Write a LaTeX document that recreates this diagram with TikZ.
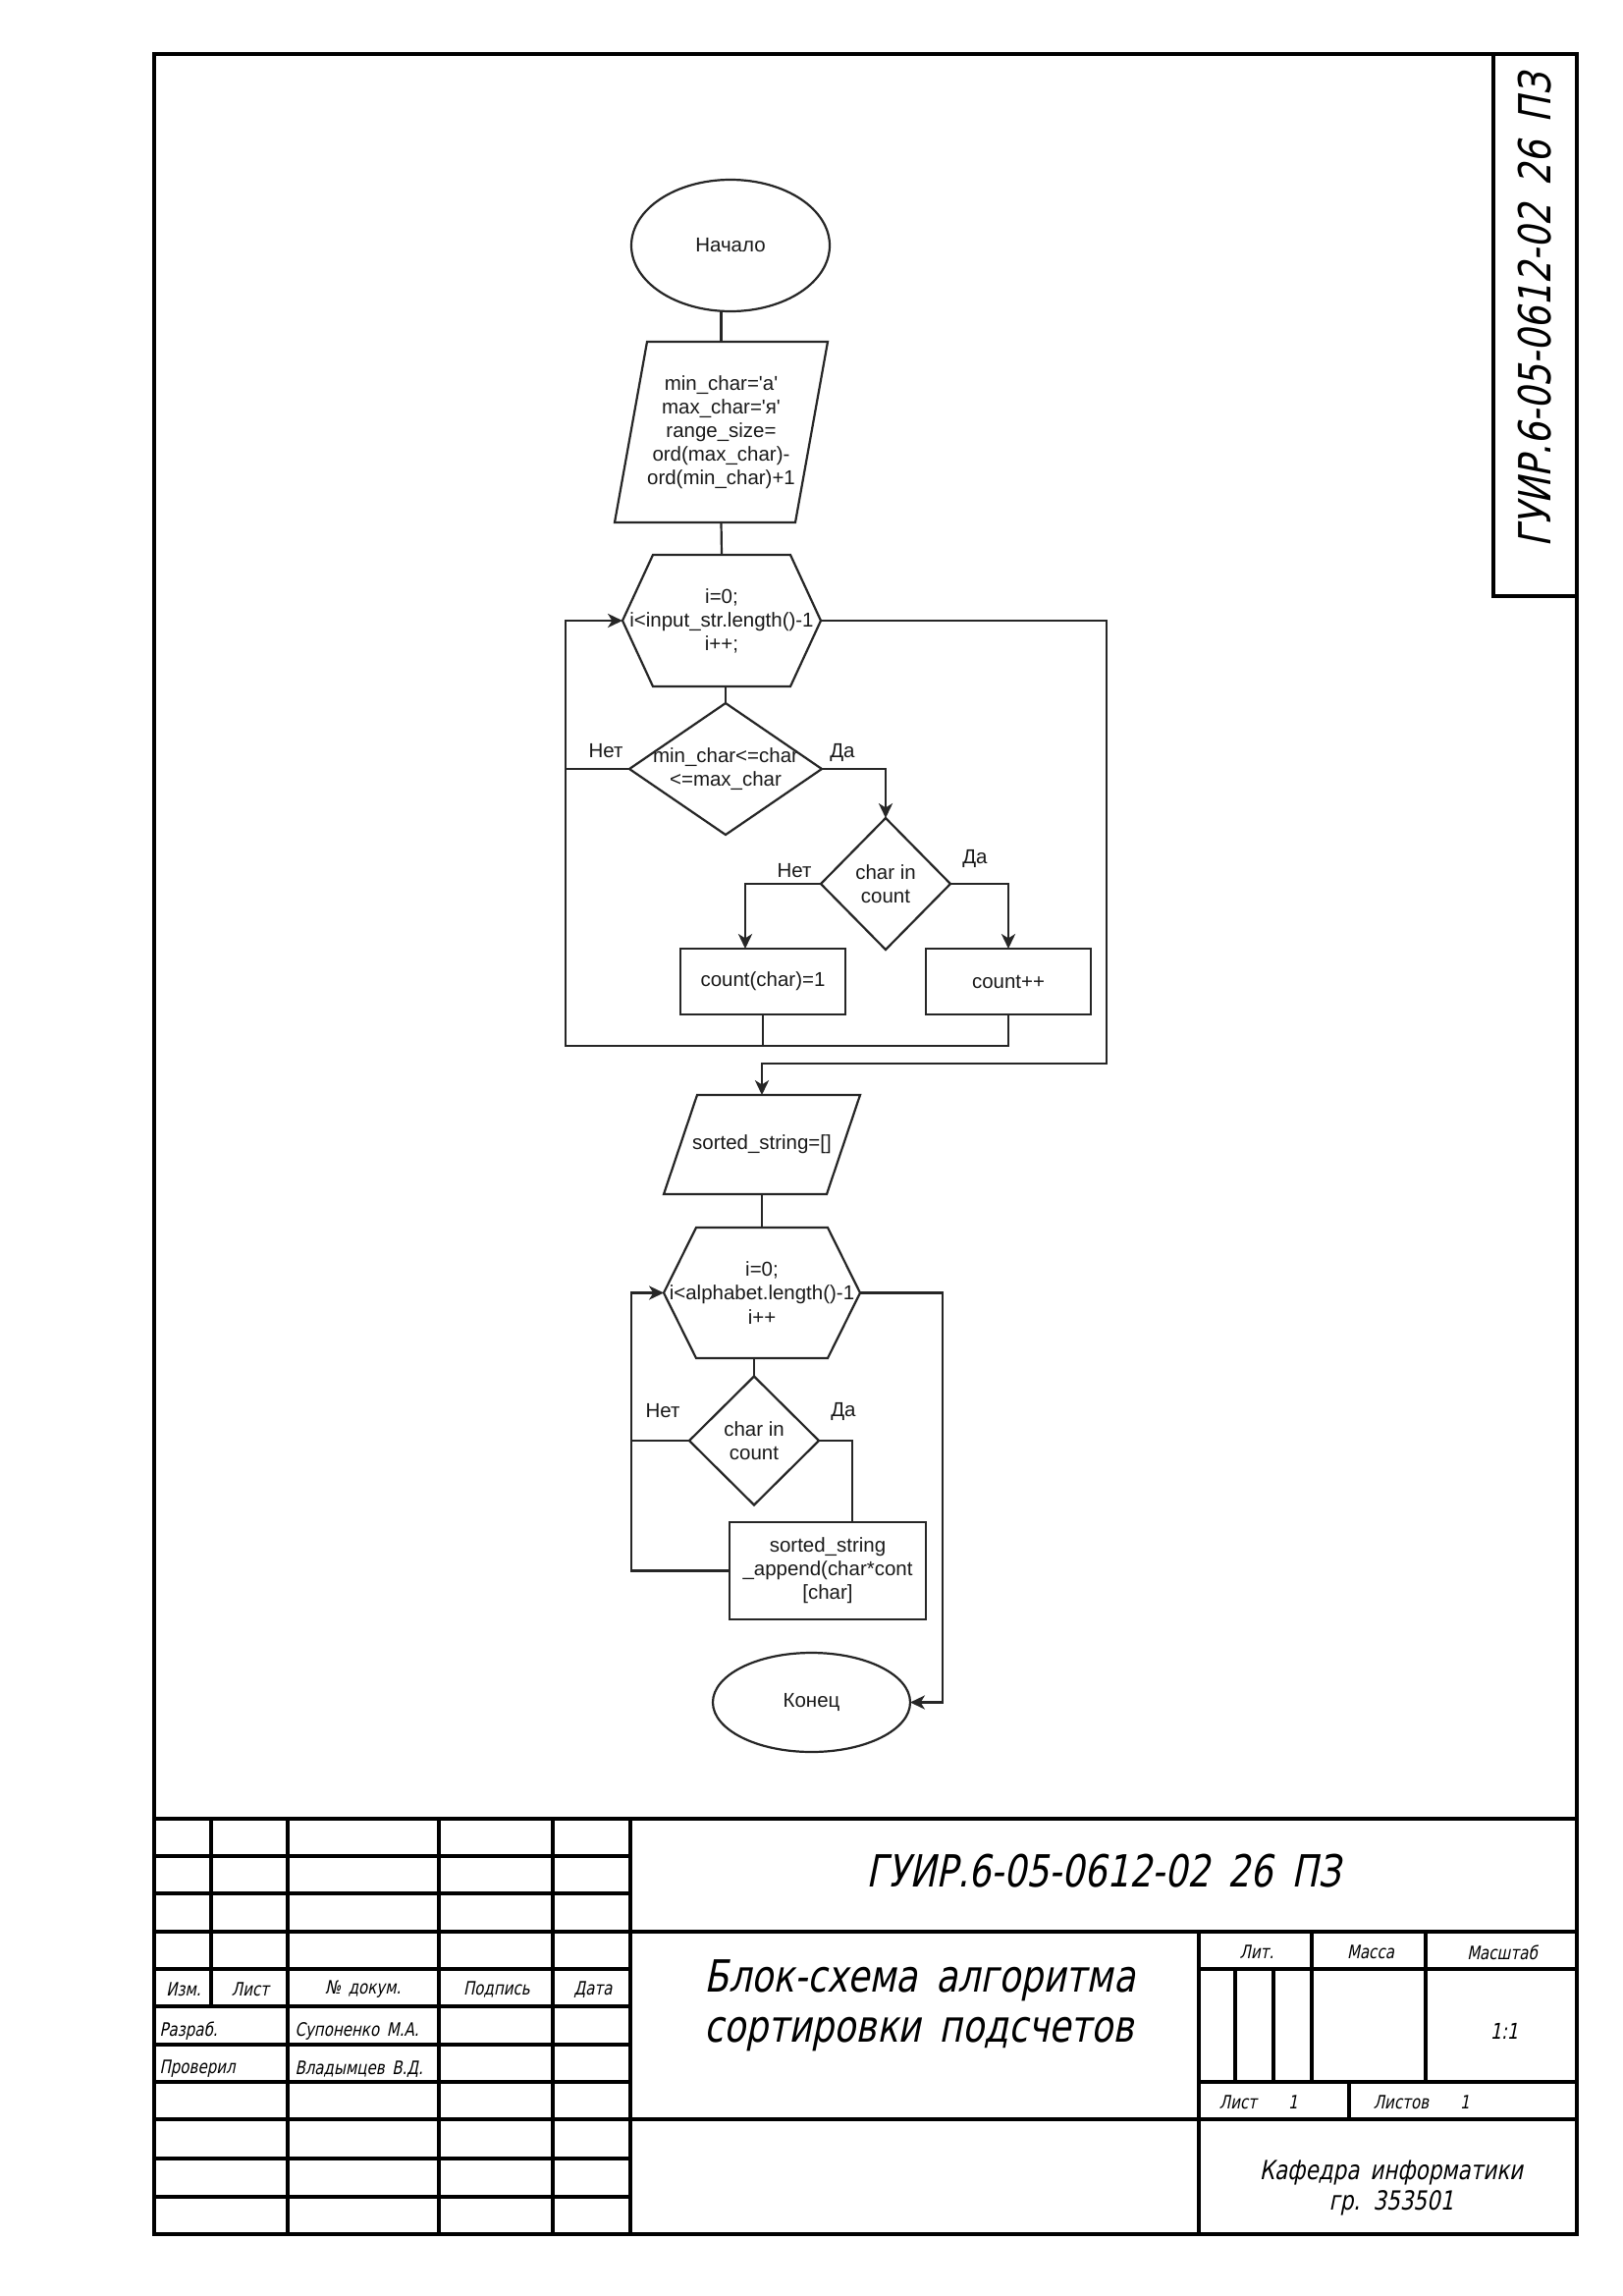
\documentclass[tikz,border=0pt]{standalone}
\usepackage{fontspec}
\setmainfont{Liberation Sans}
\newfontfamily\gostfont{DejaVu Sans}[FakeSlant=0.2, FakeStretch=0.8, WordSpace=1.6]
\usetikzlibrary{shapes.geometric, calc, arrows.meta}
\newcommand\pxu{0.12704mm}

\begin{document}
\begin{tikzpicture}[x=0.12704mm, y=-0.12704mm,
  sz/.style 2 args={minimum width={#1*\pxu}, minimum height={#2*\pxu}},
  flowtext/.style={font=\fontsize{7.4}{8.7}\selectfont, text=black!90, align=center, inner sep=0pt, outer sep=0pt},
  shapeline/.style={draw=black!85, line width=0.28mm},
  term/.style={flowtext, ellipse, shapeline},
  procbox/.style={flowtext, rectangle, shapeline},
  outlined/.style={flowtext, rectangle, draw=none},
  conn/.style={draw=black!85, line width=0.28mm},
  arr/.style={conn, -{Stealth[length=1.9mm, width=1.8mm, inset=0.55mm]}},
  branch/.style={font=\fontsize{7.4}{8.7}\selectfont, text=black!90, inner sep=0pt},
  frameline/.style={line width=0.5mm, line cap=rect},
  gostbig/.style={font=\gostfont\fontsize{16.3}{19.5}\selectfont, inner sep=0pt},
  gostmid/.style={font=\gostfont\fontsize{9.7}{11.5}\selectfont, inner sep=0pt, align=center},
  gostsm/.style={font=\gostfont\fontsize{6.8}{8}\selectfont, inner sep=0pt}
]
\useasboundingbox (0,0) rectangle (1653,2338);
\fill[white] (0,0) rectangle (1653,2338);

% ---------------- sheet frame and side stamp ----------------
\draw[frameline] (157,55) rectangle (1606,2275);
\draw[frameline] (1521,55) -- (1521,607) -- (1606,607);
\node[gostbig, rotate=90] (stampcode) at (1563,316) {ГУИР.6-05-0612-02 26 ПЗ};

% ---------------- flowchart: first loop ----------------
\node[term, sz={202}{134}] (start) at (744,250) {Начало};

\node[outlined, sz={217}{184}] (in1) at (734.5,440)
  {min\_char=\textquotesingle а\textquotesingle\\max\_char=\textquotesingle я\textquotesingle\\range\_size=\\ord(max\_char)-\\ord(min\_char)+1};
\draw[shapeline] ($(in1.north west)+(33,0)$) -- (in1.north east)
  -- ($(in1.south east)-(33,0)$) -- (in1.south west) -- cycle;

\node[outlined, sz={202}{134}] (hex1) at (735,632)
  {i=0;\\i<input\_str.length()-1\\i++;};
\draw[shapeline] (hex1.west) -- ($(hex1.north west)+(31,0)$)
  -- ($(hex1.north east)-(31,0)$) -- (hex1.east)
  -- ($(hex1.south east)-(31,0)$) -- ($(hex1.south west)+(31,0)$) -- cycle;

\node[outlined, sz={196}{134}] (d1) at (739,783) {min\_char<=char\\<=max\_char};
\draw[shapeline] (d1.north) -- (d1.east) -- (d1.south) -- (d1.west) -- cycle;
\node[outlined, sz={132}{134}] (d2) at (902,900) {char in\\count};
\draw[shapeline] (d2.north) -- (d2.east) -- (d2.south) -- (d2.west) -- cycle;
\node[procbox, sz={168}{67}] (b1) at (777,999.5) {count(char)=1};
\node[procbox, sz={168}{67}] (b2) at (1027,999.5) {count++};

\node[branch] (no1) at (617,765) {Нет};
\node[branch] (yes1) at (858,766) {Да};
\node[branch] (no2) at (809,887) {Нет};
\node[branch] (yes2) at (993,874) {Да};

\coordinate (loop1) at (576,1065);
\coordinate (exit1) at (1127,1083);

\draw[conn] (in1.north |- start.south) -- (in1.north);
\draw[conn] (in1.south) -- (hex1.north);
\draw[conn] (d1.north |- hex1.south) -- (d1.north);
\draw[arr] (d1.east) -| (d2.north);
\draw[arr] (d2.west) -| ($(b1.north)+(-18,0)$);
\draw[arr] (d2.east) -| (b2.north);
\draw[conn] (d1.west) -- (d1.west -| loop1);
\draw[conn] (b1.south) -- (b1.south |- loop1);
\draw[arr] (b2.south) -- (b2.south |- loop1) -- (loop1) -- (loop1 |- hex1.west) -- (hex1.west);

% ---------------- flowchart: second loop ----------------
\node[outlined, sz={200}{101}] (in2) at (776,1165.5) {sorted\_string=[]};
\draw[shapeline] ($(in2.north west)+(34,0)$) -- (in2.north east)
  -- ($(in2.south east)-(34,0)$) -- (in2.south west) -- cycle;

\node[outlined, sz={200}{133}] (hex2) at (776,1316.5)
  {i=0;\\i<alphabet.length()-1\\i++};
\draw[shapeline] (hex2.west) -- ($(hex2.north west)+(33,0)$)
  -- ($(hex2.north east)-(33,0)$) -- (hex2.east)
  -- ($(hex2.south east)-(33,0)$) -- ($(hex2.south west)+(33,0)$) -- cycle;

\node[outlined, sz={132}{131}] (d3) at (768,1467) {char in\\count};
\draw[shapeline] (d3.north) -- (d3.east) -- (d3.south) -- (d3.west) -- cycle;
\node[procbox, sz={200}{99}] (b3) at (843,1599.5) {sorted\_string\\\_append(char*cont\\{}[char]};
\node[term, sz={201}{101}] (end) at (826.5,1733.5) {Конец};

\node[branch] (no3) at (675,1437) {Нет};
\node[branch] (yes3) at (859,1437) {Да};

\coordinate (loop2) at (643,1599.5);
\coordinate (exit2) at (960,1733.5);

\draw[arr] (hex1.east) -- (hex1.east -| exit1) -- (exit1) -- (exit1 -| in2.north) -- (in2.north);
\draw[conn] (in2.south) -- (hex2.north);
\draw[conn] (d3.north |- hex2.south) -- (d3.north);
\draw[conn] (d3.east) -| ($(b3.north)+(25,0)$);
\draw[conn] (d3.west) -- (d3.west -| loop2);
\draw[arr] (b3.west) -- (loop2) -- (loop2 |- hex2.west) -- (hex2.west);
\draw[arr] (hex2.east) -- (hex2.east -| exit2) -- (exit2) -- (end.east);

% ---------------- title block grid ----------------
\draw[frameline] (157,1852) -- (1606,1852);
\draw[frameline] (642,1967) -- (1606,1967);
\draw[frameline] (157,2158) -- (1606,2158);
\foreach \yy in {1890,1928,1967,2005,2043,2082,2120,2198,2237}
  \draw[frameline] (157,\yy) -- (642,\yy);
\draw[frameline] (1221,2005) -- (1606,2005);
\draw[frameline] (1221,2120) -- (1606,2120);
\draw[frameline] (215,1852) -- (215,2043);
\foreach \xx in {293,447,563,642}
  \draw[frameline] (\xx,1852) -- (\xx,2275);
\draw[frameline] (1221,1967) -- (1221,2275);
\draw[frameline] (1258,2005) -- (1258,2120);
\draw[frameline] (1297,2005) -- (1297,2120);
\draw[frameline] (1336,1967) -- (1336,2120);
\draw[frameline] (1452,1967) -- (1452,2120);
\draw[frameline] (1374,2120) -- (1374,2158);

% ---------------- title block texts ----------------
\node[gostbig] (code) at (1124,1905) {ГУИР.6-05-0612-02 26 ПЗ};
\node[gostbig, anchor=west] (title1) at (717,2017) {Блок-схема алгоритма};
\node[gostbig, anchor=west] (title2) at (717,2072) {сортировки подсчетов};

\node[gostsm] (hIzm) at (187,2026) {Изм.};
\node[gostsm] (hList) at (255,2026) {Лист};
\node[gostsm] (hDoc) at (370,2026) {№ докум.};
\node[gostsm] (hSign) at (506,2026) {Подпись};
\node[gostsm] (hDate) at (604,2026) {Дата};
\node[gostsm, anchor=west] (dev) at (162,2068) {Разраб.};
\node[gostsm, anchor=west] (devname) at (300,2068) {Супоненко М.А.};
\node[gostsm, anchor=west] (chk) at (162,2107) {Проверил};
\node[gostsm, anchor=west] (chkname) at (300,2107) {Владымцев В.Д.};

\node[gostsm] (lit) at (1280,1988) {Лит.};
\node[gostsm] (mass) at (1396,1988) {Масса};
\node[gostsm] (scale) at (1530,1988) {Масштаб};
\node[gostsm, font=\gostfont\fontsize{8}{9}\selectfont] (scaleval) at (1532,2068) {1:1};
\node[gostsm] (sheet) at (1261,2141) {Лист};
\node[gostsm] (sheetno) at (1317,2141) {1};
\node[gostsm] (sheets) at (1427,2141) {Листов};
\node[gostsm] (sheetsno) at (1492,2141) {1};
\node[gostmid] (dept) at (1417,2228) {Кафедра информатики\\гр. 353501};
\end{tikzpicture}
\end{document}
